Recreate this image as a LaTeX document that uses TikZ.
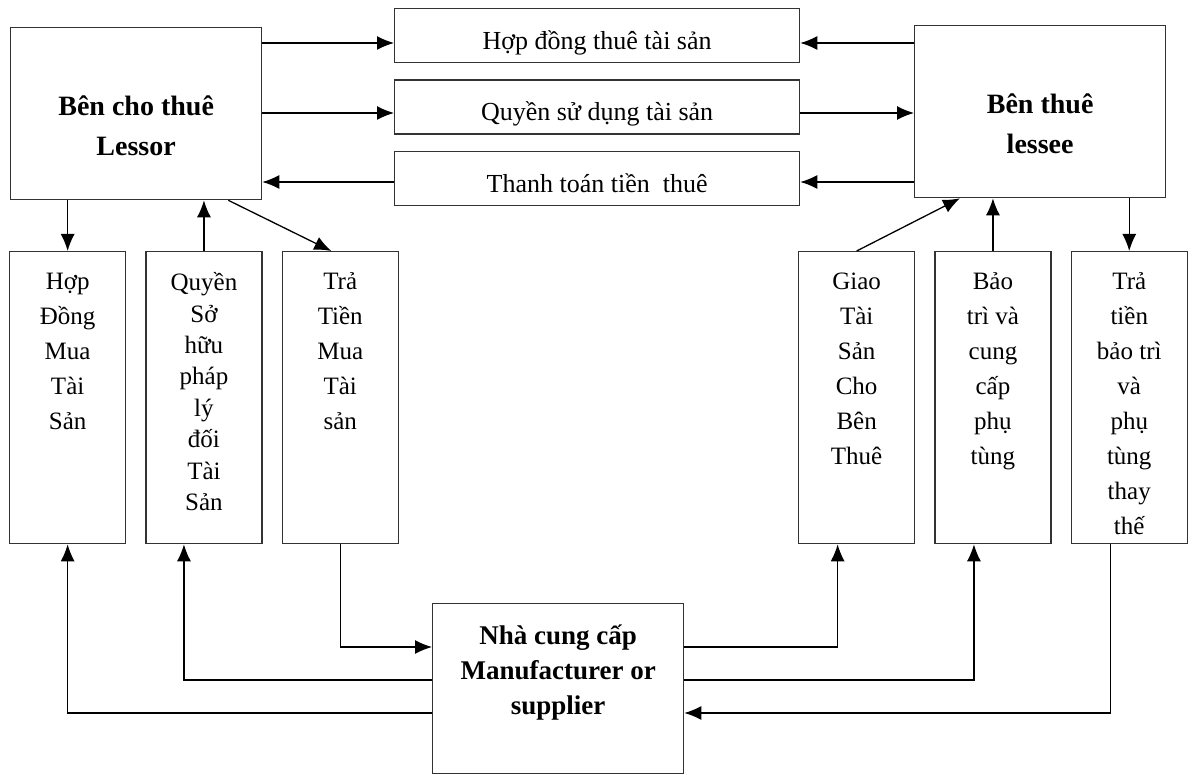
\documentclass[tikz,border=0pt]{standalone}
\usepackage{fontspec}
\setmainfont{Liberation Serif}
\usetikzlibrary{positioning,arrows.meta}
\newcommand\coltext[2][35pt]{\parbox[c][250pt][t]{112pt}{\centering\fontsize{25}{#1}\selectfont #2}}

\begin{document}
\begin{tikzpicture}[x=1pt,y=-1pt,>={Latex[length=17pt,width=14pt]},line width=1.3pt,
    bigbox/.style={draw=black!80,minimum width=251pt,minimum height=172pt,inner sep=0pt},
    bigtxt/.style={align=center,font=\fontsize{28}{40}\selectfont\bfseries},
    midbox/.style={draw=black!80,minimum width=405pt,minimum height=54pt,inner sep=0pt,text height=34pt,text depth=6pt,font=\fontsize{26}{30}\selectfont},
    colbox/.style={draw=black!80,minimum width=116pt,minimum height=292pt,inner sep=0pt}]

                \useasboundingbox (0,0) rectangle (1192,775);

                \node[bigbox, anchor=north west] (lessor) at (10,27) {};
                \node[bigtxt] (lessortxt) at ([yshift=-12pt]lessor.center) {Bên cho thuê\\Lessor};
                \node[bigbox, anchor=north west] (lessee) at (914,25) {};
                \node[bigtxt] (lesseetxt) at ([yshift=-12pt]lessee.center) {Bên thuê\\lessee};

                \node[midbox, anchor=north west] (hd1) at (394,8) {Hợp đồng thuê tài sản};
                \node[midbox] (qsd) [below=16pt of hd1] {Quyền sử dụng tài sản};
                \node[midbox] (tt) [below=16pt of qsd] {Thanh toán tiền~ thuê};

                \node[colbox, anchor=north west] (hd) at (9,251) {\coltext{Hợp\\Đồng\\Mua\\Tài\\Sản}};
                \node[colbox] (qsh) [right=19pt of hd] {\coltext[31.4pt]{Quyền\\Sở\\hữu\\pháp\\lý\\đối\\Tài\\Sản}};
                \node[colbox] (tra) [right=19pt of qsh] {\coltext{Trả\\Tiền\\Mua\\Tài\\sản}};

                \node[colbox, anchor=north west] (giao) at (798,251) {\coltext{Giao\\Tài\\Sản\\Cho\\Bên\\Thuê}};
                \node[colbox] (bt) [right=19pt of giao] {\coltext{Bảo\\trì và\\cung\\cấp\\phụ\\tùng}};
                \node[colbox] (ttb) [right=19pt of bt] {\coltext{Trả\\tiền\\bảo trì\\và\\phụ\\tùng\\thay\\thế}};

                \node[bigbox, anchor=north west, minimum height=170pt] (sup) at (432,603) {};
                \node[bigtxt, font=\fontsize{27}{35}\selectfont\bfseries] (suptxt) at ([yshift=16pt]sup.center) {Nhà cung cấp\\Manufacturer or\\supplier};

                \coordinate (r1) at (0,43);
                \coordinate (r2) at (0,113);
                \coordinate (r3) at (0,182);
                \coordinate (s1) at (0,647);
                \coordinate (s2) at (0,680);
                \coordinate (s3) at (0,713);

                \draw[->] (lessor.east |- r1) to (hd1.west |- r1);
                \draw[->] (lessee.west |- r1) to (hd1.east |- r1);
                \draw[->] (lessor.east |- r2) to (qsd.west |- r2);
                \draw[->] (qsd.east |- r2) to (lessee.west |- r2);
                \draw[->] (tt.west |- r3) to (lessor.east |- r3);
                \draw[->] (lessee.west |- r3) to (tt.east |- r3);

                \draw[->] (hd.north |- lessor.south) to (hd.north);
                \draw[->] (qsh.north) to (qsh.north |- lessor.south);
                \draw[->] ([xshift=-34pt]lessor.south east) to ([xshift=-9pt]tra.north);
                \draw[->] (giao.north) to ([xshift=46pt]lessee.south west);
                \draw[->] (bt.north) to (bt.north |- lessee.south);
                \draw[->] (lessee.south -| ttb.north) to (ttb.north);

                \draw[->] (tra.south) |- (sup.west |- s1);
                \draw[->] (sup.west |- s2) -| ([xshift=-20pt]qsh.south);
                \draw[->] (sup.west |- s3) -| (hd.south);
                \draw[->] (sup.east |- s1) -| ([xshift=-19pt]giao.south);
                \draw[->] (sup.east |- s2) -| ([xshift=-19pt]bt.south);
                \draw[->] ([xshift=-19pt]ttb.south) |- (sup.east |- s3);

            \end{tikzpicture}
\end{document}
